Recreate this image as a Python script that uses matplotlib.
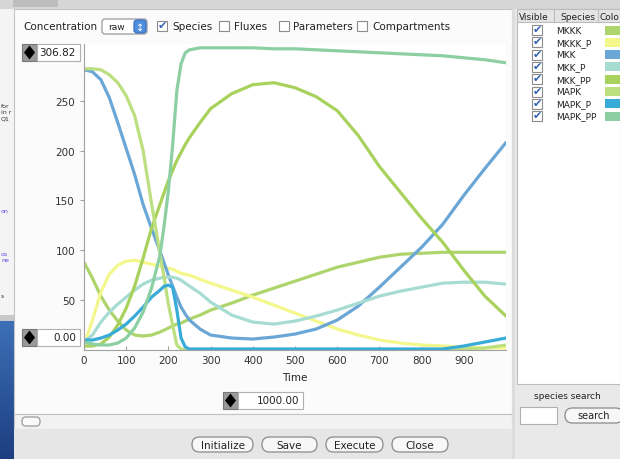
import numpy as np
import matplotlib
matplotlib.use('Agg')
import matplotlib.pyplot as plt
from matplotlib.patches import Rectangle, FancyBboxPatch, Polygon

plt.rcParams['font.family'] = 'DejaVu Sans'

# values
time = [0, 20, 40, 60, 80, 100, 120, 140, 160, 180, 190, 200, 210, 220, 230, 240, 250,
        275, 300, 350, 400, 450, 500, 550, 600, 650, 700, 750, 800, 850, 900, 950, 1000]

mkkk = [88, 72, 54, 40, 29, 20, 15, 14, 15, 18, 20, 22, 24, 26, 27, 29, 31,
        35, 40, 47, 55, 62, 69, 76, 83, 88, 93, 96, 97, 98, 98, 98, 98]
mkkk_p = [5, 30, 58, 76, 85, 89, 90, 88, 86, 84, 83, 82, 81, 79, 77, 76, 75,
          71, 67, 60, 53, 45, 37, 29, 21, 15, 10, 7, 5, 4, 3, 2, 2]
mkk = [281, 279, 271, 253, 228, 202, 176, 146, 122, 99, 87, 75, 64, 53, 43, 36, 30,
       21, 15, 12, 11, 13, 16, 21, 30, 44, 63, 83, 103, 126, 155, 182, 208]
mkk_p = [8, 15, 28, 38, 46, 53, 60, 66, 70, 72, 73, 73, 73, 72, 70, 67, 64,
         57, 48, 35, 28, 26, 29, 34, 40, 47, 54, 59, 63, 67, 68, 68, 66]
mkk_pp = [4, 4, 6, 13, 25, 42, 64, 92, 122, 146, 158, 170, 180, 190, 198, 206, 213,
          228, 242, 257, 266, 268, 263, 254, 240, 215, 184, 158, 132, 108, 80, 54, 34]
mapk = [282, 282, 281, 276, 268, 255, 235, 200, 147, 97, 72, 46, 25, 5, 1, 0, 0,
        0, 0, 0, 0, 0, 0, 0, 0, 0, 0, 0, 0, 0, 1, 2, 5]
mapk_p = [10, 10, 12, 15, 20, 26, 34, 43, 53, 60, 64, 65, 63, 40, 12, 3, 1,
          1, 1, 1, 1, 1, 1, 1, 1, 1, 1, 1, 1, 1, 4, 8, 12]
mapk_pp = [8, 6, 5, 5, 7, 12, 22, 38, 62, 95, 125, 160, 205, 260, 287, 298, 301,
           303, 303, 303, 303, 302, 302, 301, 300, 299, 298, 297, 296, 295, 293, 291, 288]

species = ['MKKK', 'MKKK_P', 'MKK', 'MKK_P', 'MKK_PP', 'MAPK', 'MAPK_P', 'MAPK_PP']
series = [mkkk, mkkk_p, mkk, mkk_p, mkk_pp, mapk, mapk_p, mapk_pp]
colors = ['#aed46c', '#f4f88c', '#6aa6d6', '#a6dcd2', '#a8d25c', '#bcdf80', '#38abd8', '#8ccfa2']

y_min, y_max, t_end = 0.0, 306.82, 1000.0

fig = plt.figure(figsize=(6.2, 4.6), dpi=100)

# background "window" drawn in pixel coordinates
bg = fig.add_axes([0, 0, 1, 1])
bg.set_xlim(0, 620)
bg.set_ylim(460, 0)
bg.axis('off')


def rect(x, y, w, h, fc, ec='none', lw=0.8, z=1):
    bg.add_patch(Rectangle((x, y), w, h, fc=fc, ec=ec, lw=lw, zorder=z))


def rbox(x, y, w, h, fc='white', ec='#8a8a8a', r=6, z=2):
    bg.add_patch(FancyBboxPatch((x, y), w, h, boxstyle='round,pad=0,rounding_size=%g' % r,
                                fc=fc, ec=ec, lw=0.9, zorder=z))


def txt(x, y, s, size=7.5, ha='left', color='#222222', z=3):
    bg.text(x, y, s, fontsize=size, ha=ha, va='center', color=color, zorder=z)


def checkbox(x, y, checked):
    rect(x, y - 5, 10, 10, 'white', '#8c8c8c', z=3)
    if checked:
        bg.text(x + 5.5, y - 1, '\u2714', fontsize=8, ha='center', va='center',
                color='#2d5fb2', zorder=4)


def spin(x, y, w, s):
    rect(x, y, 15, 17, '#9a9a9a', '#777777', z=3)
    bg.add_patch(Polygon([(x + 7.5, y + 1.5), (x + 13, y + 8.5), (x + 7.5, y + 15.5), (x + 2, y + 8.5)],
                         closed=True, fc='black', ec='none', zorder=4))
    rect(x + 15, y, w - 15, 17, 'white', '#b0b0b0', z=3)
    txt(x + w - 4, y + 8.5, s, ha='right', size=7.5)


# whole screen background
rect(0, 0, 620, 460, '#e9e9e9', z=0)
# window on the left behind
rect(0, 0, 14, 322, '#f4f4f4', z=0.5)
grad = np.linspace(0, 1, 50).reshape(-1, 1)
bg.imshow(grad, extent=[0, 14, 460, 322], cmap=matplotlib.colors.LinearSegmentedColormap.from_list(
    'desk', ['#3d6fb8', '#1d3f80']), aspect='auto', zorder=0.6)
rect(0, 316, 14, 6, '#c8c8c8', z=0.7)
for yy, s, c in [(107, 'for', '#333333'), (113, 'in r', '#333333'), (119, 'Q1', '#333333'),
                 (212, 'on', '#5a4ee0'), (255, 'os', '#5a4ee0'), (261, 'ne', '#5a4ee0'),
                 (297, 's', '#333333')]:
    txt(1, yy, s, size=4.5, color=c)

# top strip
rect(0, 0, 620, 10, '#d6d6d6', z=0.8)
rect(13, 1, 45, 7, '#bdbdbd', z=0.9)

# main window
rect(14, 10, 498, 405, '#fbfbfb', '#c4c4c4', z=0.9)
rect(14, 415, 498, 15, '#f2f2f2', '#c4c4c4', z=0.9)
rbox(22, 418, 18, 9, fc='#fafafa', ec='#9a9a9a', r=4)
rect(14, 430, 498, 30, '#e6e6e6', z=0.9)
rect(512, 10, 3, 450, '#dcdcdc', z=0.9)

# toolbar row
txt(23, 27, 'Concentration')
rbox(102, 20, 45, 15, fc='white', ec='#9a9a9a', r=3)
txt(108, 27.5, 'raw', size=6.5)
rbox(134, 21, 12, 13, fc='#4f8fe0', ec='#3a6fc0', r=3)
bg.text(140, 27.5, '\u2195', fontsize=7, ha='center', va='center', color='white', zorder=4)
checkbox(157, 27, True)
txt(172, 27, 'Species')
checkbox(219, 27, False)
txt(234, 27, 'Fluxes')
checkbox(279, 27, False)
txt(293, 27, 'Parameters')
checkbox(357, 27, False)
txt(372, 27, 'Compartments')

# range boxes
spin(22, 45, 58, '%.2f' % y_max)
spin(22, 330, 58, '%.2f' % y_min)
spin(223, 393, 80, '%.2f' % t_end)

# buttons
for bx, bw, label in [(192, 61, 'Initialize'), (262, 55, 'Save'), (326, 57, 'Execute'), (392, 56, 'Close')]:
    rbox(bx, 438, bw, 15, fc='#f7f7f7', ec='#8a8a8a', r=7.5)
    txt(bx + bw / 2, 446, label, ha='center')

# right panel: species table
rect(517, 10, 103, 375, 'white', '#bdbdbd', z=0.95)
rect(517, 10, 103, 13, '#e4e4e4', '#bdbdbd', z=1)
for sx in [554, 598]:
    bg.plot([sx, sx], [10, 23], color='#bdbdbd', lw=0.8, zorder=1.1)
txt(519, 17, 'Visible', size=6.5)
txt(560, 17, 'Species', size=6.5)
txt(600, 17, 'Colo', size=6.5)
for i, (name, col) in enumerate(zip(species, colors)):
    ry = 31 + i * 12.3
    checkbox(532, ry, True)
    txt(556, ry, name, size=6.5)
    rect(605, ry - 4.5, 15, 9, col, z=2)
txt(567, 397, 'species search', ha='center', size=6.5)
rect(520, 408, 37, 17, 'white', '#b0b0b0', z=2)
rbox(565, 409, 58, 15, fc='#f7f7f7', ec='#8a8a8a', r=7.5)
txt(594, 416.5, 'search', ha='center', size=7)

# the chart itself
ax = fig.add_axes([84 / 620, 1 - 351 / 460, (506 - 84) / 620, (351 - 45) / 460])
ax.patch.set_facecolor('white')
for vals, col in zip(series, colors):
    ax.plot(time, vals, color=col, lw=2.3, solid_capstyle='round', solid_joinstyle='round')
ax.set_xlim(0, t_end)
ax.set_ylim(y_min, y_max)
ax.spines['top'].set_visible(False)
ax.spines['right'].set_visible(False)
for sp in ['left', 'bottom']:
    ax.spines[sp].set_color('#a0a0a0')
    ax.spines[sp].set_linewidth(0.8)
ax.set_xticks(range(0, 1000, 100))
ax.set_yticks(range(50, 300, 50))
ax.tick_params(axis='both', labelsize=7.5, labelcolor='#333333', color='#a0a0a0', length=3)
ax.tick_params(axis='x', direction='in')
ax.set_xlabel('Time', fontsize=7.5, color='#222222', labelpad=5)

fig.savefig('out.png', dpi=100)
